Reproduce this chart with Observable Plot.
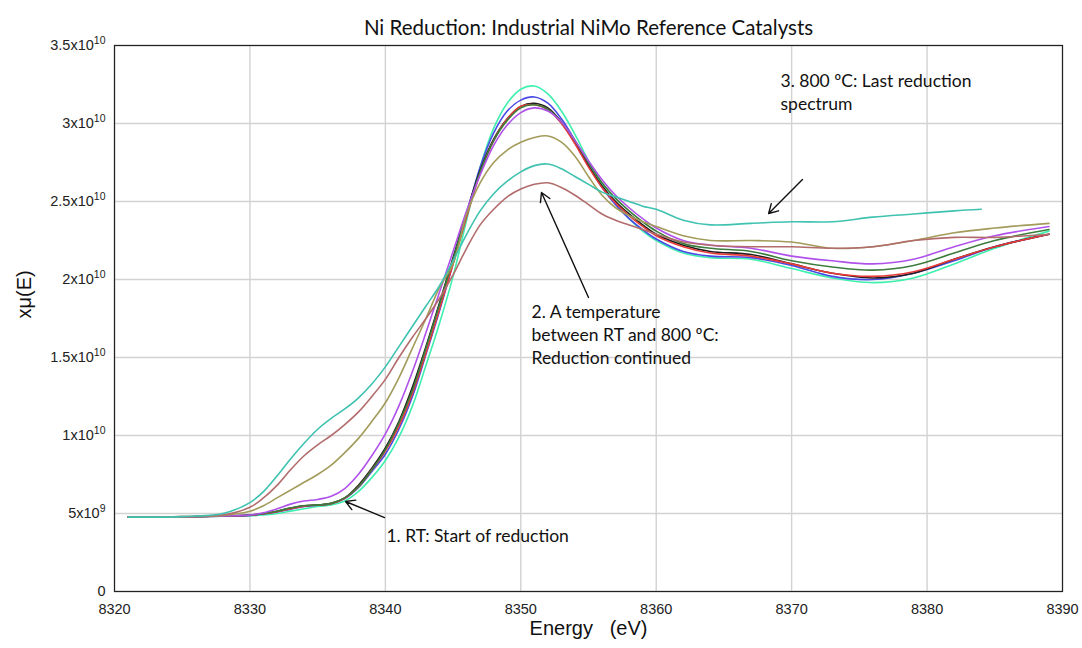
<!DOCTYPE html>
<html><head><meta charset="utf-8">
<script src="https://cdn.jsdelivr.net/npm/d3@7"></script>
<script src="https://cdn.jsdelivr.net/npm/@observablehq/plot@0.6"></script>
<style>body{margin:0;background:#fff;overflow:hidden}</style>
</head><body><div id="chart"></div>
<script>
// Energy grid (eV)
const energies = [8321,8325,8328,8330,8331,8332,8333,8334,8335,8336,8337,8338,8339,8340,8341,8342,8343,8344,8345,8346,8347,8348,8349,8350,8351,8352,8353,8354,8355,8356,8357,8358,8359,8360,8362,8364,8367,8370,8373,8376,8379,8382,8385,8389];
const energiesLast = [8321,8325,8328,8330,8331,8332,8333,8334,8335,8336,8337,8338,8339,8340,8341,8342,8343,8344,8345,8346,8347,8348,8349,8350,8351,8352,8353,8354,8355,8356,8357,8358,8359,8360,8362,8364,8367,8370,8373,8376,8379,8382,8384];

// xμ(E) values in units of 1e10
const specA = [0.477,0.478,0.482,0.485,0.49,0.50,0.515,0.53,0.545,0.555,0.58,0.64,0.73,0.84,0.99,1.19,1.45,1.72,2.02,2.38,2.72,2.97,3.13,3.22,3.24,3.19,3.08,2.93,2.76,2.61,2.49,2.39,2.31,2.25,2.17,2.14,2.13,2.07,2.01,1.98,2.01,2.10,2.20,2.31];
const specB = [0.477,0.478,0.483,0.488,0.497,0.51,0.528,0.545,0.553,0.562,0.595,0.665,0.77,0.88,1.04,1.25,1.52,1.80,2.10,2.42,2.72,2.94,3.08,3.15,3.17,3.13,3.03,2.89,2.73,2.59,2.48,2.39,2.32,2.26,2.18,2.15,2.14,2.09,2.02,2.00,2.04,2.12,2.21,2.29];
const specC = [0.477,0.478,0.484,0.49,0.50,0.515,0.535,0.55,0.555,0.565,0.60,0.68,0.79,0.92,1.09,1.31,1.57,1.85,2.14,2.43,2.70,2.90,3.03,3.11,3.13,3.10,3.01,2.88,2.73,2.60,2.50,2.42,2.35,2.29,2.22,2.18,2.16,2.10,2.04,2.01,2.04,2.13,2.21,2.29];
const specD = [0.477,0.478,0.484,0.489,0.498,0.512,0.53,0.547,0.554,0.563,0.598,0.67,0.78,0.90,1.06,1.27,1.53,1.81,2.10,2.40,2.68,2.89,3.03,3.11,3.12,3.09,3.00,2.87,2.72,2.59,2.49,2.41,2.34,2.28,2.21,2.17,2.15,2.10,2.04,2.02,2.05,2.13,2.21,2.29];
const specE = [0.477,0.478,0.484,0.49,0.50,0.515,0.535,0.55,0.555,0.565,0.60,0.67,0.78,0.91,1.08,1.29,1.56,1.84,2.13,2.42,2.69,2.89,3.02,3.10,3.12,3.09,3.01,2.89,2.75,2.62,2.52,2.44,2.37,2.31,2.23,2.20,2.18,2.12,2.08,2.06,2.09,2.17,2.25,2.32];
const specF = [0.477,0.478,0.484,0.49,0.505,0.53,0.56,0.58,0.59,0.61,0.66,0.75,0.87,1.01,1.19,1.41,1.66,1.92,2.18,2.44,2.67,2.86,2.99,3.07,3.10,3.08,3.01,2.89,2.76,2.64,2.54,2.46,2.39,2.33,2.25,2.22,2.20,2.15,2.12,2.10,2.13,2.21,2.28,2.34];
const specG = [0.477,0.48,0.488,0.515,0.55,0.60,0.65,0.70,0.75,0.81,0.89,0.98,1.09,1.21,1.37,1.56,1.75,1.95,2.10,2.42,2.62,2.75,2.83,2.88,2.91,2.92,2.88,2.79,2.66,2.54,2.46,2.41,2.37,2.34,2.28,2.25,2.25,2.24,2.20,2.21,2.25,2.30,2.33,2.36];
const specH = [0.477,0.48,0.49,0.54,0.60,0.68,0.78,0.87,0.94,1.00,1.07,1.15,1.25,1.36,1.50,1.63,1.75,1.88,2.03,2.20,2.35,2.45,2.53,2.58,2.61,2.62,2.59,2.54,2.48,2.42,2.38,2.35,2.32,2.29,2.24,2.22,2.21,2.21,2.20,2.21,2.25,2.27,2.27,2.29];
const specLast = [0.477,0.48,0.50,0.57,0.64,0.74,0.85,0.95,1.04,1.11,1.17,1.24,1.33,1.44,1.57,1.70,1.83,1.96,2.12,2.29,2.44,2.55,2.63,2.69,2.73,2.74,2.71,2.66,2.61,2.56,2.53,2.50,2.47,2.45,2.38,2.35,2.36,2.37,2.37,2.40,2.42,2.44,2.45];

const seriesNames = ["S1","S2","S3","S4","S5","S6","S7","S8","S9"];
const seriesColors = ["#3ef0ae","#4a4ae6","#1e1e1e","#e83a3a","#3c7c3c","#b052ea","#a39b5a","#b26c6c","#3fc2b0"];
const seriesValues = [specA,specB,specC,specD,specE,specF,specG,specH,specLast];
const seriesEnergies = [energies,energies,energies,energies,energies,energies,energies,energies,energiesLast];

const xTicks = [8320,8330,8340,8350,8360,8370,8380,8390];
const yTicks = [0,0.5e10,1e10,1.5e10,2e10,2.5e10,3e10,3.5e10];

const notes = [
  {text:"3. 800 ºC: Last reduction\nspectrum", energy:8369.18, mu:3.21e10},
  {text:"2. A temperature\nbetween RT and 800 ºC:\nReduction continued", energy:8350.79, mu:1.655e10},
  {text:"1. RT: Start of reduction", energy:8340.08, mu:0.365e10}
];
const arrows = [
  {e1:8370.8, m1:2.641e10, e2:8368.3, m2:2.423e10},
  {e1:8355.0, m1:1.885e10, e2:8351.53, m2:2.558e10},
  {e1:8339.94, m1:0.474e10, e2:8337.06, m2:0.577e10}
];

const rows = seriesNames.flatMap((n,k) => seriesEnergies[k].map((e,i) => ({name:n, energy:e, mu:seriesValues[k][i]*1e10})));

function fmt(v){
  if (v === 0) return "0";
  if (v < 1e10) return (v/1e9) + "x10^9";
  return (v/1e10) + "x10^10";
}

const chart = Plot.plot({
  width:1082, height:648,
  marginLeft:114, marginRight:20, marginTop:45, marginBottom:57,
  style:{fontFamily:"'Liberation Sans', Arial, sans-serif", fontSize:"14.5px", background:"#fff", color:"#222"},
  x:{domain:[8320,8390], ticks:xTicks, tickSize:0, tickPadding:12, tickFormat:d=>String(d), label:null},
  y:{domain:[0,3.5e10], ticks:yTicks, tickSize:0, tickPadding:9, tickFormat:fmt, label:null},
  color:{domain:seriesNames, range:seriesColors},
  marks:[
    Plot.gridX(xTicks, {stroke:"#d2d2d2", strokeOpacity:1, strokeWidth:1.4}),
    Plot.gridY(yTicks, {stroke:"#d2d2d2", strokeOpacity:1, strokeWidth:1.4}),
    Plot.line(rows, {x:"energy", y:"mu", z:"name", stroke:"name", strokeWidth:1.6, curve:"catmull-rom"}),
    Plot.frame({stroke:"#222", strokeWidth:1.2}),
    Plot.text(["Ni Reduction: Industrial NiMo Reference Catalysts"], {frameAnchor:"top", dy:-25, fontFamily:"Lato, 'Open Sans', sans-serif", fontSize:20.5, fill:"#111"}),
    Plot.text(["Energy\u00a0\u00a0\u00a0(eV)"], {frameAnchor:"bottom", dy:43, fontSize:20, fill:"#111"}),
    Plot.text(["xμ(E)"], {frameAnchor:"left", dx:-90, rotate:-90, fontSize:20, fill:"#111"}),
    Plot.text(notes, {x:"energy", y:"mu", text:"text", textAnchor:"start", lineAnchor:"middle", lineHeight:1.33, fontFamily:"Lato, 'Open Sans', sans-serif", fontSize:17.5, fill:"#111"}),
    Plot.arrow(arrows, {x1:"e1", y1:"m1", x2:"e2", y2:"m2", stroke:"#111", strokeWidth:1.4, headLength:11})
  ]
});

d3.select(chart).selectAll('g[aria-label="y-axis tick label"] text').each(function(){
  const t = this.textContent;
  if (t.includes("^")) {
    const [b,e] = t.split("^");
    const s = d3.select(this);
    s.text(b);
    s.append("tspan").attr("dy","-0.6em").attr("font-size","10.5px").text(e);
  }
});
document.getElementById("chart").appendChild(chart);
</script>
</body></html>
